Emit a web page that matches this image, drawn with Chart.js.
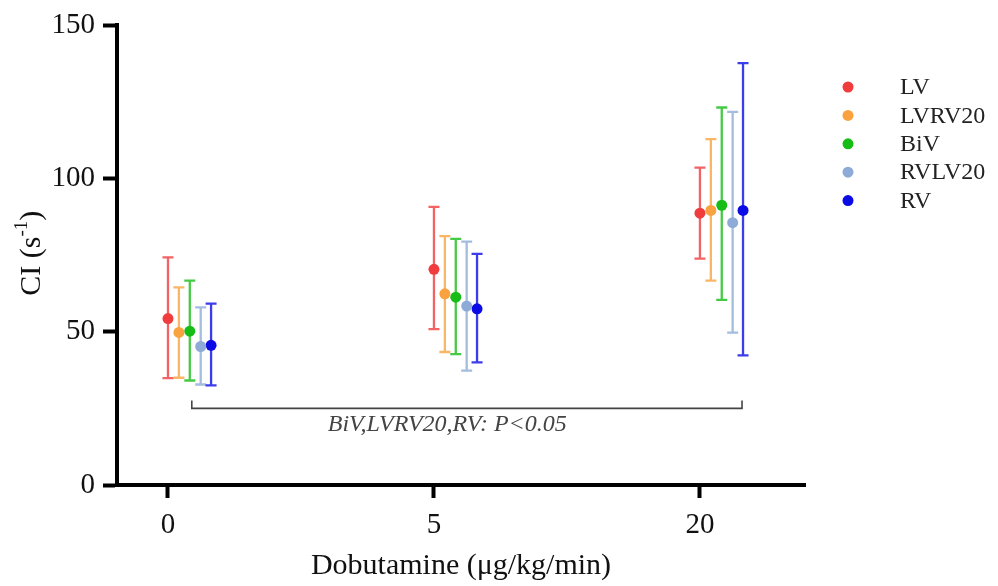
<!DOCTYPE html>
<html>
<head>
<meta charset="utf-8">
<script src="https://cdn.jsdelivr.net/npm/chart.js@4"></script>
<style>
    html, body { margin: 0; padding: 0; background: #fff; }
</style>
</head>
<body>
<canvas id="ciChart" width="998" height="586"></canvas>
<script>
// Dobutamine doses (x categories)
const doses = ['0', '5', '20'];
const seriesNames = ['LV', 'LVRV20', 'BiV', 'RVLV20', 'RV'];

// CI (s-1): mean, lower and upper error bar per dose
const lvMean = [54.3, 70.4, 88.7];
const lvLow = [34.9, 50.9, 73.9];
const lvHigh = [74.3, 90.8, 103.6];

const lvrv20Mean = [49.8, 62.4, 89.6];
const lvrv20Low = [35.0, 43.4, 66.7];
const lvrv20High = [64.5, 81.2, 112.9];

const bivMean = [50.2, 61.3, 91.3];
const bivLow = [34.1, 42.7, 60.4];
const bivHigh = [66.7, 80.3, 123.2];

const rvlv20Mean = [45.2, 58.4, 85.6];
const rvlv20Low = [32.8, 37.3, 49.7];
const rvlv20High = [58.0, 79.4, 121.8];

const rvMean = [45.6, 57.5, 89.6];
const rvLow = [32.5, 40.0, 42.3];
const rvHigh = [59.2, 75.4, 137.7];

const yTicks = [0, 50, 100, 150];
const annotationText = 'BiV,LVRV20,RV: P<0.05';

const colors = ['#f03c3c', '#f9a23f', '#17bd17', '#8dabd6', '#0b0be6'];
const dodge = [0, 0.041, 0.082, 0.123, 0.162];
const serif = '"Liberation Serif", "Times New Roman", serif';

const means = [lvMean, lvrv20Mean, bivMean, rvlv20Mean, rvMean];
const lows = [lvLow, lvrv20Low, bivLow, rvlv20Low, rvLow];
const highs = [lvHigh, lvrv20High, bivHigh, rvlv20High, rvHigh];

const datasets = seriesNames.map((name, k) => ({
    label: name,
    data: means[k].map((v, i) => ({ x: i + dodge[k], y: v })),
    errLow: lows[k],
    errHigh: highs[k],
    backgroundColor: colors[k],
    borderColor: colors[k],
    pointRadius: 5.5,
    pointHoverRadius: 5.5,
    borderWidth: 0,
    showLine: false
}));

// error bars drawn under the points
const errorBars = {
    id: 'errorBars',
    beforeDatasetsDraw(chart) {
        const ctx = chart.ctx;
        const xs = chart.scales.x, ys = chart.scales.y;
        ctx.save();
        chart.data.datasets.forEach(ds => {
            ctx.strokeStyle = ds.borderColor;
            ctx.lineWidth = 2.3;
            ctx.globalAlpha = 0.8;
            ds.data.forEach((p, i) => {
                const x = xs.getPixelForValue(p.x);
                const yl = ys.getPixelForValue(ds.errLow[i]);
                const yh = ys.getPixelForValue(ds.errHigh[i]);
                ctx.beginPath();
                ctx.moveTo(x, yl); ctx.lineTo(x, yh);
                ctx.moveTo(x - 5.5, yl); ctx.lineTo(x + 5.5, yl);
                ctx.moveTo(x - 5.5, yh); ctx.lineTo(x + 5.5, yh);
                ctx.stroke();
            });
        });
        ctx.restore();
    }
};

// bracket, y title and legend
const extras = {
    id: 'extras',
    afterDraw(chart) {
        const ctx = chart.ctx;
        const xs = chart.scales.x, ys = chart.scales.y;
        ctx.save();

        // significance bracket from BiV at 0 to RV at 20
        const bx1 = xs.getPixelForValue(dodge[2]) + 2;
        const bx2 = xs.getPixelForValue(2 + dodge[4]) - 1;
        const by = ys.getPixelForValue(25);
        ctx.strokeStyle = '#444';
        ctx.lineWidth = 1.6;
        ctx.beginPath();
        ctx.moveTo(bx1, by - 8); ctx.lineTo(bx1, by); ctx.lineTo(bx2, by); ctx.lineTo(bx2, by - 8);
        ctx.stroke();
        ctx.fillStyle = '#444';
        ctx.font = 'italic 24px ' + serif;
        ctx.textAlign = 'center';
        ctx.textBaseline = 'middle';
        ctx.fillText(annotationText, xs.getPixelForValue(1.05), by + 16);

        // y axis title with superscript
        ctx.translate(32, (chart.chartArea.top + chart.chartArea.bottom) / 2 - 2);
        ctx.rotate(-Math.PI / 2);
        ctx.fillStyle = '#111';
        ctx.textAlign = 'left';
        ctx.textBaseline = 'middle';
        const big = '30px ' + serif, small = '19px ' + serif;
        ctx.font = big;
        const w1 = ctx.measureText('CI (s').width, w3 = ctx.measureText(')').width;
        ctx.font = small;
        const w2 = ctx.measureText('-1').width;
        let x0 = -(w1 + w2 + w3) / 2;
        ctx.font = big;
        ctx.fillText('CI (s', x0, 0);
        ctx.font = small;
        ctx.fillText('-1', x0 + w1, -10);
        ctx.font = big;
        ctx.fillText(')', x0 + w1 + w2, 0);
        ctx.setTransform(1, 0, 0, 1, 0, 0);

        // legend
        ctx.font = '24px ' + serif;
        ctx.textAlign = 'left';
        ctx.textBaseline = 'middle';
        chart.data.datasets.forEach((ds, k) => {
            const y = 87 + k * 28.4;
            ctx.fillStyle = ds.backgroundColor;
            ctx.beginPath();
            ctx.arc(848, y, 5.5, 0, Math.PI * 2);
            ctx.fill();
            ctx.fillStyle = '#222';
            ctx.fillText(ds.label, 900, y + 1);
        });
        ctx.restore();
    }
};

new Chart(document.getElementById('ciChart'), {
    type: 'scatter',
    data: { datasets: datasets },
    options: {
        responsive: false,
        animation: false,
        layout: { padding: { top: 22, right: 193, bottom: 0, left: 0 } },
        plugins: {
            legend: { display: false },
            tooltip: { enabled: false }
        },
        scales: {
            x: {
                type: 'linear',
                min: -0.1917,
                max: 2.395,
                afterBuildTicks: axis => { axis.ticks = doses.map((d, i) => ({ value: i })); },
                afterFit: axis => { axis.height = 101; },
                ticks: {
                    callback: v => doses[v],
                    font: { family: serif, size: 29 },
                    color: '#111',
                    padding: 10,
                    maxRotation: 0
                },
                grid: { drawOnChartArea: false, tickLength: 13, tickWidth: 4, color: '#000' },
                border: { color: '#000', width: 4 },
                title: {
                    display: true,
                    text: 'Dobutamine (μg/kg/min)',
                    font: { family: serif, size: 30 },
                    color: '#111',
                    padding: { top: 0, bottom: 2 }
                }
            },
            y: {
                min: 0,
                max: 150,
                afterBuildTicks: axis => { axis.ticks = yTicks.map(v => ({ value: v })); },
                afterFit: axis => { axis.width = 117; },
                ticks: {
                    font: { family: serif, size: 29 },
                    color: '#111',
                    padding: 8
                },
                grid: { drawOnChartArea: false, tickLength: 14, tickWidth: 4, color: '#000' },
                border: { color: '#000', width: 4 }
            }
        }
    },
    plugins: [errorBars, extras]
});
</script>
</body>
</html>
